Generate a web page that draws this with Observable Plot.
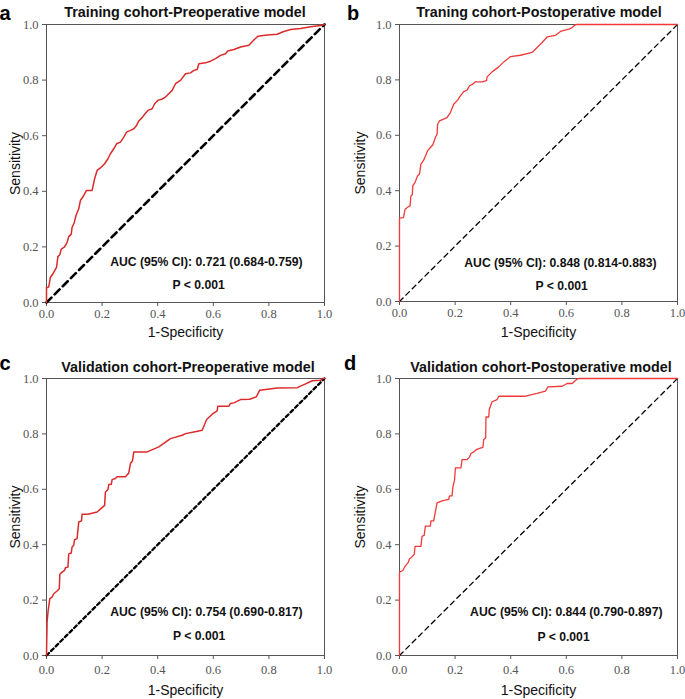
<!DOCTYPE html>
<html>
<head>
<meta charset="utf-8">
<script src="https://cdn.jsdelivr.net/npm/d3@7"></script>
<script src="https://cdn.jsdelivr.net/npm/@observablehq/plot@0.6"></script>
<style>
  html, body { margin: 0; padding: 0; background: #fff; }
  #root { position: relative; width: 685px; height: 699px; overflow: hidden; }
  .panel { position: absolute; }
</style>
</head>
<body>
<div id="root"></div>
<script>
// ---- data ----
const panelLetters = ["a", "b", "c", "d"];
const panelTitles = [
  "Training cohort-Preoperative model",
  "Traning cohort-Postoperative model",
  "Validation cohort-Preoperative model",
  "Validation cohort-Postoperative model"
];
const aucLabels = [
  "AUC (95% CI): 0.721 (0.684-0.759)",
  "AUC (95% CI): 0.848 (0.814-0.883)",
  "AUC (95% CI): 0.754 (0.690-0.817)",
  "AUC (95% CI): 0.844 (0.790-0.897)"
];
const pLabel = "P < 0.001";
const xTicks = [0, 0.2, 0.4, 0.6, 0.8, 1.0];
const yTicks = [0, 0.2, 0.4, 0.6, 0.8, 1.0];
const xTitle = "1-Specificity";
const yTitle = "Sensitivity";

const aFpr = [0,0,0.002,0.008,0.014,0.026,0.036,0.041,0.048,0.053,0.065,0.074,0.080,0.089,0.092,0.100,0.106,0.116,0.122,0.134,0.144,0.164,0.173,0.182,0.194,0.209,0.221,0.230,0.242,0.252,0.266,0.278,0.288,0.302,0.314,0.324,0.332,0.344,0.353,0.365,0.380,0.389,0.400,0.416,0.428,0.440,0.452,0.464,0.482,0.500,0.518,0.530,0.542,0.548,0.572,0.590,0.608,0.626,0.644,0.652,0.674,0.698,0.728,0.746,0.760,0.794,0.830,0.851,0.878,0.914,0.950,0.986,1];
const aTpr = [0,0.054,0.054,0.056,0.090,0.108,0.126,0.165,0.172,0.192,0.200,0.216,0.237,0.246,0.270,0.288,0.313,0.337,0.367,0.385,0.403,0.403,0.445,0.475,0.484,0.499,0.517,0.535,0.553,0.571,0.577,0.595,0.613,0.619,0.625,0.637,0.653,0.665,0.677,0.691,0.697,0.715,0.727,0.732,0.739,0.751,0.763,0.787,0.799,0.823,0.826,0.835,0.838,0.859,0.862,0.868,0.877,0.889,0.895,0.905,0.910,0.919,0.925,0.944,0.958,0.962,0.965,0.974,0.982,0.986,0.992,0.996,1];

const bFpr = [0,0,0.014,0.020,0.032,0.038,0.041,0.046,0.048,0.056,0.065,0.072,0.077,0.087,0.096,0.101,0.111,0.120,0.129,0.135,0.137,0.144,0.171,0.183,0.195,0.209,0.219,0.231,0.243,0.252,0.264,0.273,0.297,0.313,0.315,0.333,0.357,0.375,0.399,0.435,0.477,0.495,0.513,0.531,0.561,0.579,0.609,0.621,0.633,0.637,1];
const bTpr = [0,0.301,0.303,0.333,0.342,0.345,0.381,0.385,0.418,0.430,0.454,0.460,0.496,0.510,0.532,0.544,0.556,0.566,0.592,0.604,0.640,0.652,0.664,0.682,0.712,0.727,0.742,0.758,0.763,0.779,0.785,0.793,0.793,0.797,0.811,0.829,0.847,0.865,0.884,0.889,0.899,0.917,0.935,0.955,0.961,0.975,0.983,0.989,0.999,1,1];

const cFpr = [0,0.002,0.006,0.012,0.020,0.026,0.038,0.046,0.048,0.056,0.065,0.068,0.077,0.080,0.089,0.092,0.098,0.101,0.110,0.116,0.126,0.128,0.149,0.182,0.200,0.209,0.212,0.221,0.224,0.233,0.236,0.248,0.254,0.284,0.296,0.302,0.309,0.314,0.362,0.404,0.446,0.488,0.500,0.530,0.560,0.576,0.596,0.614,0.616,0.656,0.662,0.674,0.698,0.731,0.755,0.767,0.830,0.902,0.926,0.956,0.986,0.992,1];
const cTpr = [0,0.120,0.163,0.205,0.211,0.223,0.233,0.241,0.293,0.301,0.307,0.317,0.319,0.367,0.370,0.392,0.398,0.418,0.422,0.482,0.486,0.510,0.510,0.518,0.534,0.542,0.590,0.599,0.617,0.618,0.635,0.639,0.645,0.645,0.659,0.693,0.702,0.735,0.735,0.753,0.783,0.795,0.801,0.807,0.813,0.852,0.871,0.883,0.900,0.900,0.910,0.912,0.924,0.925,0.934,0.958,0.966,0.967,0.978,0.992,0.994,1,1];

const dFpr = [0,0,0.012,0.020,0.032,0.036,0.044,0.053,0.056,0.077,0.081,0.089,0.093,0.111,0.113,0.123,0.135,0.153,0.177,0.180,0.189,0.192,0.198,0.201,0.221,0.225,0.243,0.252,0.257,0.267,0.276,0.291,0.300,0.303,0.310,0.311,0.321,0.323,0.333,0.351,0.357,0.453,0.495,0.525,0.534,0.585,0.603,0.621,0.639,0.645,1];
const dTpr = [0,0.301,0.307,0.322,0.337,0.349,0.355,0.365,0.394,0.394,0.430,0.434,0.467,0.467,0.486,0.486,0.551,0.558,0.564,0.576,0.576,0.608,0.633,0.677,0.677,0.707,0.707,0.717,0.729,0.735,0.743,0.749,0.751,0.780,0.786,0.861,0.861,0.888,0.916,0.924,0.936,0.936,0.946,0.954,0.970,0.972,0.982,0.982,0.998,1,1];

const diag = [0, 1];

// ---- layout / styles (not data) ----
const panels = [
  {fpr: aFpr, tpr: aTpr, left: 0, top: 0, w: 340, h: 345, m: [24, 16, 43, 46], red: "#dc2a2a", rw: 1.5,
   dash: "7,4.5", dw: 2.6, aucX: 0.575, aucY: 0.144, pX: 0.547, pY: 0.061, tickPad: 2.5, xlabDy: 30,
   titleX: 185, titleY: 16.5, letterX: 5, ylabX: 15},
  {fpr: bFpr, tpr: bTpr, left: 340, top: 0, w: 345, h: 345, m: [24, 8, 44, 59], red: "#f03a3a", rw: 1.3,
   dash: "5,4", dw: 1.3, aucX: 0.579, aucY: 0.137, pX: 0.583, pY: 0.054, tickPad: 2.5, xlabDy: 31,
   titleX: 199, titleY: 17, letterX: 13, ylabX: 20},
  {fpr: cFpr, tpr: cTpr, left: 0, top: 350, w: 340, h: 349, m: [28, 16, 44, 46], red: "#dc2a2a", rw: 1.5,
   dash: "3.5,3", dw: 2.3, aucX: 0.575, aucY: 0.156, pX: 0.549, pY: 0.069, tickPad: 6, xlabDy: 35,
   titleX: 188, titleY: 21.5, letterX: 5, ylabX: 15},
  {fpr: dFpr, tpr: dTpr, left: 340, top: 350, w: 345, h: 349, m: [28, 8, 44, 59], red: "#f03a3a", rw: 1.3,
   dash: "5,4", dw: 1.3, aucX: 0.600, aucY: 0.156, pX: 0.590, pY: 0.066, tickPad: 6, xlabDy: 35,
   titleX: 201, titleY: 21.5, letterX: 10, ylabX: 20}
];

const root = document.getElementById("root");
const sans = "Liberation Sans";
const serif = "Liberation Serif";

panels.forEach((p, i) => {
  const [mt, mr, mb, ml] = p.m;
  const pts = p.fpr.map((x, k) => ({x, y: p.tpr[k]}));
  const chart = Plot.plot({
    width: p.w,
    height: p.h,
    marginTop: mt, marginRight: mr, marginBottom: mb, marginLeft: ml,
    style: `background: transparent; overflow: visible;`,
    x: {domain: [0, 1], label: null},
    y: {domain: [0, 1], label: null},
    marks: [
      Plot.axisX({ticks: xTicks, tickSize: 4, text: null, stroke: "#555", label: null}),
      Plot.axisY({ticks: yTicks, tickSize: 4, text: null, stroke: "#555", label: null}),
      Plot.text(xTicks, {x: d => d, frameAnchor: "bottom", dy: 4 + p.tickPad, lineAnchor: "top", text: d3.format(".1f"), fontFamily: serif, fontSize: 12.5, fill: "#555"}),
      Plot.text(yTicks, {y: d => d, frameAnchor: "left", dx: -8, textAnchor: "end", text: d3.format(".1f"), fontFamily: serif, fontSize: 12.5, fill: "#555"}),
      Plot.frame({stroke: "#555", strokeWidth: 1}),
      Plot.line(diag.map(v => ({x: v, y: v})), {x: "x", y: "y", stroke: "#000", strokeWidth: p.dw, strokeDasharray: p.dash}),
      Plot.line(pts, {x: "x", y: "y", stroke: p.red, strokeWidth: p.rw, curve: "linear"}),
      Plot.text([aucLabels[i]], {x: p.aucX, y: p.aucY, text: d => d, fontFamily: sans, fontWeight: "bold", fontSize: 12.2, fill: "#111"}),
      Plot.text([pLabel], {x: p.pX, y: p.pY, text: d => d, fontFamily: sans, fontWeight: "bold", fontSize: 12.2, fill: "#111"}),
      Plot.text([xTitle], {frameAnchor: "bottom", dy: p.xlabDy, lineAnchor: "middle", textAnchor: "middle", text: d => d, fontFamily: sans, fontSize: 14, fill: "#111"}),
      Plot.text([yTitle], {frameAnchor: "left", dx: -(ml - p.ylabX), rotate: -90, lineAnchor: "middle", textAnchor: "middle", text: d => d, fontFamily: sans, fontSize: 14, fill: "#111"})
    ]
  });
  const wrap = document.createElement("div");
  wrap.className = "panel";
  wrap.style.left = p.left + "px";
  wrap.style.top = p.top + "px";
  wrap.appendChild(chart);

  const svg = d3.select(chart);
  svg.append("text")
    .attr("x", p.titleX).attr("y", p.titleY)
    .attr("text-anchor", "middle")
    .attr("font-family", sans).attr("font-weight", "bold").attr("font-size", 14.3)
    .attr("fill", "#111")
    .text(panelTitles[i]);
  svg.append("text")
    .attr("x", p.letterX).attr("y", 20)
    .attr("font-family", sans).attr("font-weight", "bold").attr("font-size", 20)
    .attr("fill", "#000")
    .text(panelLetters[i]);
  root.appendChild(wrap);
});
</script>
</body>
</html>
